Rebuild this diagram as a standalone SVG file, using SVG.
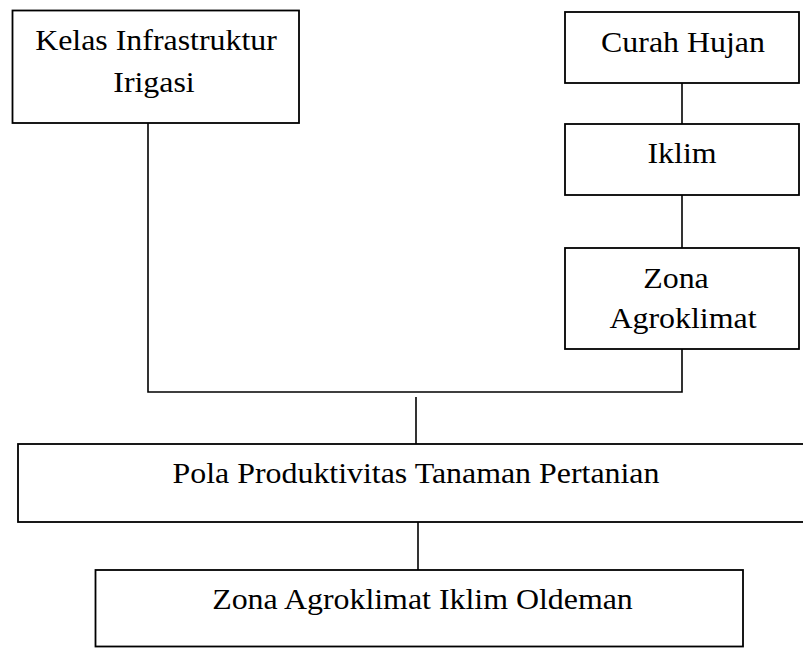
<svg xmlns="http://www.w3.org/2000/svg" width="803" height="648" viewBox="0 0 803 648">
<style>
.box{fill:#fff;stroke:#000;stroke-width:1.8}
.t{font-family:"Times New Roman","Liberation Serif",serif;font-size:29px;fill:#000;text-anchor:middle}
.c{fill:none;stroke:#000;stroke-width:1.6}
</style>
<rect width="803" height="648" fill="#fff"/>
<g id="connectors">
<path class="c" d="M148 123 V392 H682 V349"/>
<line class="c" x1="682" y1="83" x2="682" y2="124"/>
<line class="c" x1="682" y1="195" x2="682" y2="248"/>
<line class="c" x1="416" y1="397" x2="416" y2="444"/>
<line class="c" x1="418" y1="519" x2="418" y2="570"/>
</g>
<g id="kelas">
<rect class="box" x="12.5" y="10.5" width="286.5" height="112.5"/>
<text class="t" transform="translate(156 50) scale(1.1 1)">Kelas Infrastruktur</text>
<text class="t" transform="translate(154 92) scale(1.1 1)">Irigasi</text>
</g>
<g id="curah">
<rect class="box" x="565" y="12" width="234" height="71"/>
<text class="t" transform="translate(683 52) scale(1.1 1)">Curah Hujan</text>
</g>
<g id="iklim">
<rect class="box" x="565" y="124" width="234" height="71"/>
<text class="t" transform="translate(682 163) scale(1.1 1)">Iklim</text>
</g>
<g id="zona">
<rect class="box" x="565" y="248" width="234" height="101"/>
<text class="t" transform="translate(676 288) scale(1.1 1)">Zona</text>
<text class="t" transform="translate(683 328) scale(1.1 1)">Agroklimat</text>
</g>
<g id="pola">
<rect class="box" x="18" y="444" width="800" height="78"/>
<text class="t" transform="translate(416 483) scale(1.1 1)">Pola Produktivitas Tanaman Pertanian</text>
</g>
<g id="oldeman">
<rect class="box" x="95.5" y="570" width="647.5" height="76.5"/>
<text class="t" transform="translate(422.5 609) scale(1.1 1)">Zona Agroklimat Iklim Oldeman</text>
</g>
</svg>
